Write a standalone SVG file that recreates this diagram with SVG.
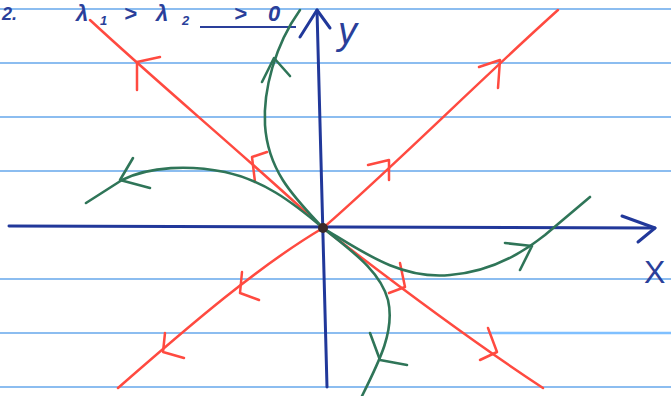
<svg xmlns="http://www.w3.org/2000/svg" width="671" height="396" viewBox="0 0 671 396">
<style>
.paper{stroke:#8cbdf0;stroke-width:2;fill:none}
.axis{stroke:#21389a;stroke-width:3;fill:none;stroke-linecap:round;stroke-linejoin:round}
.red{stroke:#ff4a40;stroke-width:2.5;fill:none;stroke-linecap:round;stroke-linejoin:round}
.green{stroke:#2f7558;stroke-width:2.6;fill:none;stroke-linecap:round;stroke-linejoin:round}
.hand{font-family:"Liberation Sans","DejaVu Sans",sans-serif;fill:#2a3f9a;font-style:italic}
</style>
<rect width="671" height="396" fill="#ffffff"/>
<g id="paper">
<line class="paper" x1="0" y1="9" x2="671" y2="9"/>
<line class="paper" x1="0" y1="63" x2="671" y2="63"/>
<line class="paper" x1="0" y1="117" x2="671" y2="117"/>
<line class="paper" x1="0" y1="171" x2="671" y2="171"/>
<line class="paper" x1="0" y1="279" x2="671" y2="279"/>
<line class="paper" x1="0" y1="333" x2="490" y2="333"/>
<line x1="490" y1="333" x2="671" y2="333" stroke="#7fc0ff" stroke-width="2.5"/>
<line class="paper" x1="0" y1="387" x2="671" y2="387"/>
</g>
<g id="title">
<text class="hand" x="2" y="20" font-size="18" font-weight="bold">2.</text>
<text class="hand" x="76" y="21" font-size="22" font-weight="bold">λ</text>
<text class="hand" x="100" y="25" font-size="13" font-weight="bold">1</text>
<text class="hand" x="124" y="21" font-size="22" font-weight="bold">&gt;</text>
<text class="hand" x="156" y="21" font-size="22" font-weight="bold">λ</text>
<text class="hand" x="182" y="25" font-size="13" font-weight="bold">2</text>
<text class="hand" x="234" y="21" font-size="22" font-weight="bold">&gt;</text>
<text class="hand" x="268" y="21" font-size="22" font-weight="bold">0</text>
<line x1="200" y1="27" x2="296" y2="27" stroke="#2a3f9a" stroke-width="2"/>
</g>
<g id="axes">
<path class="axis" d="M9,226 L655,228"/>
<path class="axis" d="M622,216 L655,228 L638,242"/>
<path class="axis" d="M327,387 L317,10"/>
<path class="axis" d="M300,37 L317,10 L330,28"/>
<text x="644" y="283" font-size="32" style="font-family:'Liberation Sans','DejaVu Sans',sans-serif;fill:#2a3f9a;font-style:normal">X</text>
<text class="hand" x="338" y="44" font-size="38">y</text>
</g>
<g id="eigen-lines">
<path class="red" d="M90,20 C160,85 250,160 323,228 C390,280 470,340 543,388"/>
<path class="red" d="M118,388 C190,325 260,265 323,228 C390,170 480,80 558,10"/>
<path class="red" d="M137,90 L137,62 L160,57"/>
<path class="red" d="M255,182 L252,157 L267,152"/>
<path class="red" d="M400,263 L405,287 L389,293"/>
<path class="red" d="M488,328 L497,352 L480,360"/>
<path class="red" d="M479,67 L500,60 L498,88"/>
<path class="red" d="M368,165 L389,160 L389,180"/>
<path class="red" d="M242,272 L240,293 L259,300"/>
<path class="red" d="M165,333 L163,352 L184,358"/>
</g>
<g id="trajectories">
<path class="green" d="M323,228 C295,198 268,172 265,125 C263,90 275,45 300,10"/>
<path class="green" d="M262,82 L274,58 L290,76"/>
<path class="green" d="M323,228 C290,200 262,180 225,172 C190,165 150,166 122,180 L86,203"/>
<path class="green" d="M133,158 L120,180 L150,188"/>
<path class="green" d="M323,228 C360,250 400,280 450,275 C490,272 520,255 545,235 L590,197"/>
<path class="green" d="M505,243 L532,246 L520,270"/>
<path class="green" d="M323,228 C350,250 380,270 388,300 C395,330 380,360 362,396"/>
<path class="green" d="M370,333 L380,360 L407,365"/>
</g>
<g id="origin">
<circle cx="323" cy="228" r="5" fill="#3a2a2a"/>
</g>
</svg>
